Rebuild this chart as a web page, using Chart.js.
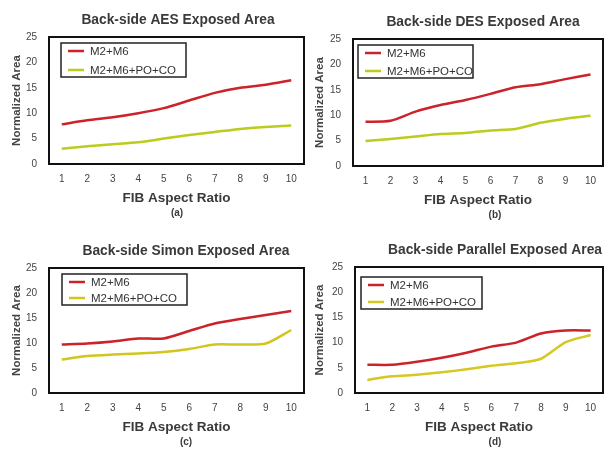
<!DOCTYPE html>
<html>
<head>
<meta charset="utf-8">
<script src="https://cdn.jsdelivr.net/npm/chart.js@4.4.1/dist/chart.umd.min.js"></script>
<style>
  html, body { margin: 0; padding: 0; background: #ffffff; }
  body { width: 606px; height: 450px; position: relative; overflow: hidden; }
  .panel { position: absolute; }
</style>
</head>
<body>
<div class="panel" style="left:0px;top:0px;width:306px;height:225px;"><canvas id="cA"></canvas></div>
<div class="panel" style="left:303px;top:0px;width:303px;height:225px;"><canvas id="cB"></canvas></div>
<div class="panel" style="left:0px;top:225px;width:306px;height:225px;"><canvas id="cC"></canvas></div>
<div class="panel" style="left:303px;top:225px;width:303px;height:225px;"><canvas id="cD"></canvas></div>
<script>
// ---------- DATA ----------
const aspectRatios = ['1', '2', '3', '4', '5', '6', '7', '8', '9', '10'];
const seriesNames = ['M2+M6', 'M2+M6+PO+CO'];
const yTicks = [0, 5, 10, 15, 20, 25];

const aesM2M6 = [7.8, 8.6, 9.2, 10.0, 11.0, 12.5, 14.0, 15.0, 15.6, 16.5];
const aesPOCO = [3.0, 3.5, 3.9, 4.3, 5.0, 5.7, 6.3, 6.9, 7.3, 7.6];

const desM2M6 = [8.7, 8.9, 10.7, 12.0, 13.0, 14.2, 15.5, 16.1, 17.1, 18.0];
const desPOCO = [4.9, 5.3, 5.8, 6.3, 6.5, 7.0, 7.3, 8.5, 9.3, 9.9];

const simonM2M6 = [9.7, 9.9, 10.3, 10.9, 10.9, 12.4, 13.9, 14.8, 15.6, 16.4];
const simonPOCO = [6.7, 7.4, 7.7, 7.9, 8.2, 8.8, 9.7, 9.7, 9.9, 12.6];

const parM2M6 = [5.6, 5.6, 6.2, 7.0, 8.0, 9.2, 10.0, 11.8, 12.4, 12.4];
const parPOCO = [2.6, 3.3, 3.6, 4.1, 4.7, 5.4, 5.9, 6.8, 10.1, 11.5];

const panelTitles = ['Back-side AES Exposed Area', 'Back-side DES Exposed Area',
                     'Back-side Simon Exposed Area', 'Back-side Parallel Exposed Area'];
const panelLabels = ['(a)', '(b)', '(c)', '(d)'];
const xAxisTitle = 'FIB Aspect Ratio';
const yAxisTitle = 'Normalized Area';

// ---------- STYLE / LAYOUT ----------
const FONT = '"Liberation Sans", Arial, sans-serif';
const redColor = '#cc2229';
const panels = [
  { id: 'cA', m2: aesM2M6, poco: aesPOCO, green: '#bccb1c',
    pad: { top: 37, right: 2, bottom: 5 }, yW: 49, titleX: 178, labelX: 177,
    legend: { dx: 12, dy: 6, w: 125, h: 34 } },
  { id: 'cB', m2: desM2M6, poco: desPOCO, green: '#bccb1c',
    pad: { top: 39, right: 3, bottom: 3 }, yW: 50, titleX: 180, labelX: 192,
    legend: { dx: 5, dy: 6, w: 115, h: 33 } },
  { id: 'cC', m2: simonM2M6, poco: simonPOCO, green: '#d0c61c',
    pad: { top: 43, right: 2, bottom: 1 }, yW: 49, titleX: 186, labelX: 186,
    legend: { dx: 13, dy: 6, w: 125, h: 31 } },
  { id: 'cD', m2: parM2M6, poco: parPOCO, green: '#d6c820',
    pad: { top: 42, right: 3, bottom: 1 }, yW: 52, titleX: 192, labelX: 192,
    legend: { dx: 6, dy: 10, w: 121, h: 32 } }
];

const panelDecor = {
  id: 'panelDecor',
  afterDatasetsDraw(chart, args, opts) {
    const { ctx, chartArea: ca } = chart;
    ctx.save();
    // frame around plot area
    ctx.strokeStyle = '#111111';
    ctx.lineWidth = 2;
    ctx.strokeRect(ca.left, ca.top, ca.right - ca.left, ca.bottom - ca.top);
    // legend box
    const lg = opts.legend;
    const bx = ca.left + lg.dx, by = ca.top + lg.dy;
    ctx.fillStyle = '#ffffff';
    ctx.fillRect(bx, by, lg.w, lg.h);
    ctx.lineWidth = 1.5;
    ctx.strokeStyle = '#222222';
    ctx.strokeRect(bx, by, lg.w, lg.h);
    const rows = [by + 8, by + lg.h - 7];
    ctx.font = '11.5px ' + FONT;
    ctx.textAlign = 'left';
    ctx.textBaseline = 'middle';
    chart.data.datasets.forEach((ds, i) => {
      ctx.strokeStyle = ds.borderColor;
      ctx.lineWidth = 2.5;
      ctx.beginPath();
      ctx.moveTo(bx + 7, rows[i]);
      ctx.lineTo(bx + 23, rows[i]);
      ctx.stroke();
      ctx.fillStyle = '#333333';
      ctx.fillText(ds.label, bx + 29, rows[i] + 0.5);
    });
    ctx.restore();
  },
  afterDraw(chart, args, opts) {
    const { ctx, chartArea: ca } = chart;
    ctx.save();
    ctx.textAlign = 'center';
    ctx.textBaseline = 'middle';
    ctx.fillStyle = '#3a3a3a';
    ctx.font = 'bold 13.8px ' + FONT;
    ctx.fillText(opts.title, opts.titleX, ca.top - 17);
    ctx.font = 'bold 10px ' + FONT;
    ctx.fillText(opts.label, opts.labelX, ca.bottom + 49);
    ctx.restore();
  }
};

panels.forEach((p, idx) => {
  new Chart(document.getElementById(p.id), {
    type: 'line',
    data: {
      labels: aspectRatios,
      datasets: [
        { label: seriesNames[0], data: p.m2, borderColor: redColor, backgroundColor: redColor,
          borderWidth: 2.5, pointRadius: 0, tension: 0.25, fill: false },
        { label: seriesNames[1], data: p.poco, borderColor: p.green, backgroundColor: p.green,
          borderWidth: 2.5, pointRadius: 0, tension: 0.25, fill: false }
      ]
    },
    options: {
      responsive: true,
      maintainAspectRatio: false,
      animation: false,
      layout: { padding: { left: 0, top: p.pad.top, right: p.pad.right, bottom: p.pad.bottom } },
      plugins: {
        legend: { display: false },
        title: { display: false },
        tooltip: { enabled: false },
        panelDecor: { title: panelTitles[idx], label: panelLabels[idx],
                      titleX: p.titleX, labelX: p.labelX, legend: p.legend }
      },
      scales: {
        x: {
          type: 'category',
          offset: true,
          grid: { display: false, drawTicks: false },
          border: { display: false },
          ticks: { color: '#444444', font: { family: FONT, size: 10 }, padding: 9, maxRotation: 0 },
          title: { display: true, text: xAxisTitle, color: '#3a3a3a',
                   font: { family: FONT, size: 13.5, weight: 'bold' }, padding: { top: 0, bottom: 14 } },
          afterFit(scale) { scale.height = 56; }
        },
        y: {
          min: 0, max: 25,
          afterBuildTicks(scale) { scale.ticks = yTicks.map(v => ({ value: v })); },
          grid: { display: false, drawTicks: false },
          border: { display: false },
          ticks: { color: '#444444', font: { family: FONT, size: 10 }, padding: 12 },
          title: { display: true, text: yAxisTitle, color: '#444444',
                   font: { family: FONT, size: 11.5, weight: 'bold' }, padding: { top: 10, bottom: 0 } },
          afterFit(scale) { scale.width = p.yW; }
        }
      }
    },
    plugins: [panelDecor]
  });
});
</script>
</body>
</html>
